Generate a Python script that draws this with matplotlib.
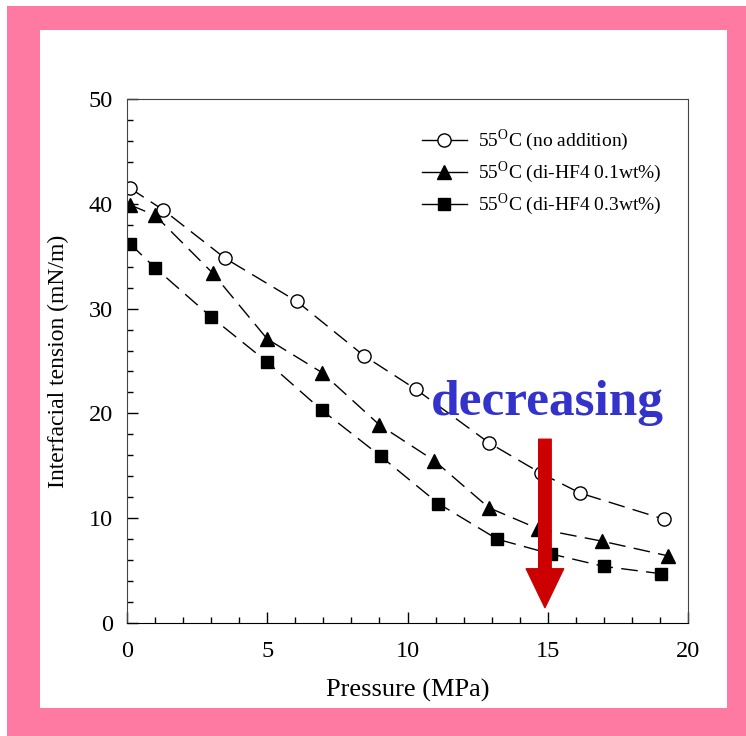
import matplotlib
matplotlib.use('Agg')
import matplotlib.pyplot as plt
from matplotlib.patches import Rectangle, FancyArrowPatch
from matplotlib.ticker import MultipleLocator

plt.rcParams['font.family'] = 'Liberation Serif'
plt.rcParams['mathtext.fontset'] = 'custom'
plt.rcParams['mathtext.rm'] = 'Liberation Serif'

# no addition (open circles)
p_none = [0.1, 1.3, 3.5, 6.05, 8.45, 10.3, 12.9, 14.75, 16.15, 19.15]
t_none = [41.5, 39.4, 34.8, 30.7, 25.5, 22.3, 17.2, 14.3, 12.4, 9.9]
# di-HF4 0.1wt% (triangles)
p_01 = [0.1, 1.0, 3.05, 5.0, 6.95, 9.0, 10.95, 12.9, 14.65, 16.95, 19.3]
t_01 = [39.9, 38.9, 33.4, 27.1, 23.9, 18.9, 15.5, 11.0, 9.0, 7.8, 6.4]
# di-HF4 0.3wt% (squares)
p_03 = [0.1, 1.0, 3.0, 5.0, 6.95, 9.05, 11.1, 13.2, 15.1, 17.0, 19.05]
t_03 = [36.2, 33.9, 29.2, 24.9, 20.3, 15.9, 11.4, 8.0, 6.6, 5.4, 4.7]

labels = ['55$^{\\rm O}$C (no addition)',
          '55$^{\\rm O}$C (di-HF4 0.1wt%)',
          '55$^{\\rm O}$C (di-HF4 0.3wt%)']

W, H = 746, 736
fig = plt.figure(figsize=(W / 100, H / 100), dpi=100)
fig.patch.set_facecolor('white')
pink = '#ff7aa2'
# pink frame and inner white panel (figure pixels)
fig.patches.append(Rectangle((7 / W, 0), 1 - 7 / W, 1 - 6 / H, transform=fig.transFigure,
                             facecolor=pink, edgecolor='none', zorder=-2))
fig.patches.append(Rectangle((40 / W, 1 - 708 / H), (727 - 40) / W, (708 - 30) / H,
                             transform=fig.transFigure, facecolor='white', edgecolor='none', zorder=-1))

ax = fig.add_axes([127 / W, 1 - 623 / H, (688 - 127) / W, (623 - 99) / H])
ax.set_facecolor('none')
ax.set_zorder(1)

dash = (0, (12, 6))
ax.plot(p_none, t_none, linestyle=dash, color='black', lw=1, marker='o', ms=9.5,
        mfc='white', mec='black', mew=1, label=labels[0])
ax.plot(p_01, t_01, linestyle=dash, color='black', lw=1, marker='^', ms=10,
        mfc='black', mec='black', label=labels[1])
ax.plot(p_03, t_03, linestyle=dash, color='black', lw=1, marker='s', ms=8,
        mfc='black', mec='black', label=labels[2])

ax.set_xlim(0, 20)
ax.set_ylim(0, 50)
ax.xaxis.set_major_locator(MultipleLocator(5))
ax.xaxis.set_minor_locator(MultipleLocator(1))
ax.yaxis.set_major_locator(MultipleLocator(10))
ax.yaxis.set_minor_locator(MultipleLocator(2))
ax.tick_params(which='both', direction='in', top=False, right=False, labelsize=17.5)
ax.tick_params(which='major', length=8, width=1)
ax.tick_params(which='minor', length=4, width=1)
ax.tick_params(axis='x', pad=13)
ax.tick_params(axis='y', pad=10)
for s in ax.spines.values():
    s.set_color('#444444')
ax.spines['bottom'].set_color('black')

ax.set_xlabel('Pressure (MPa)', fontsize=19, labelpad=12)
ax.set_ylabel('Interfacial tension (mN/m)', fontsize=17, labelpad=14)

leg = ax.legend(loc='upper left', bbox_to_anchor=(0.512, 0.96), frameon=False,
                fontsize=14, handlelength=2.3, handletextpad=0.6,
                labelspacing=0.32, borderaxespad=0.0)
for ln in leg.get_lines():
    ln.set_linestyle('-')

ax.text(15.0, 19.85, 'decreasing', color='#3333cc', fontsize=37, fontweight='bold',
        ha='center', va='baseline')

arr = FancyArrowPatch((14.9, 17.8), (14.9, 1.2), mutation_scale=1,
                      arrowstyle='simple,head_length=28,head_width=27,tail_width=9',
                      color='#cc0000', zorder=5)
ax.add_patch(arr)

fig.savefig('out.png', dpi=100)
